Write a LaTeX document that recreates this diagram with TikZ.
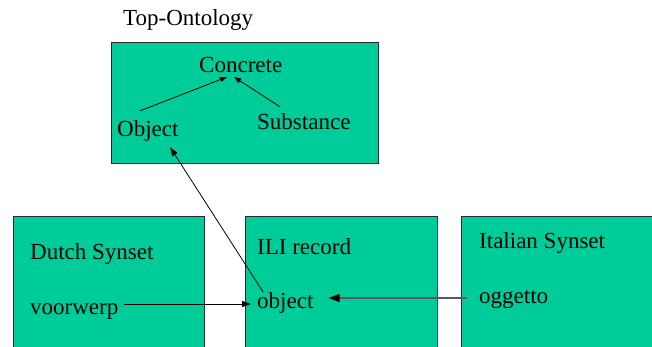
\documentclass[tikz,border=0pt]{standalone}
\usepackage{fontspec}
\setmainfont{Liberation Serif}
\usetikzlibrary{arrows.meta}
\definecolor{boxgreen}{RGB}{0,204,153}
\definecolor{boxline}{RGB}{40,40,40}
\begin{document}
\begin{tikzpicture}[x=1pt,y=-1pt,
  box/.style={draw=boxline, line width=0.9pt, fill=boxgreen, anchor=north west, inner sep=0pt},
  lbl/.style={anchor=base west, inner sep=0pt, font=\fontsize{23}{27}\selectfont},
  arr/.style={draw=black, line width=0.8pt, -{Triangle[length=9pt,width=6pt]}},
  arrsmall/.style={draw=black, line width=0.8pt, -{Triangle[length=7pt,width=5pt]}},
  arrgray/.style={draw=black!65, line width=1.6pt, -{Triangle[length=11pt,width=8pt,color=black]}}]
\useasboundingbox (0,0) rectangle (652,347);
% boxes
\node[box, minimum width=267pt, minimum height=121pt] (topbox) at (111,42) {};
\node[box, minimum width=191.5pt, minimum height=140pt] (dutch) at (12.5,216) {};
\node[box, minimum width=192pt, minimum height=140pt] (ili) at (245,216) {};
\node[box, minimum width=200pt, minimum height=140pt] (ital) at (461,216) {};
% labels
\node[lbl] (title) at (123,26) {Top-Ontology};
\node[lbl] (conc) at (199,73) {Concrete};
\node[lbl] (obj) at (117,137) {Object};
\node[lbl] (subst) at (257,130) {Substance};
\node[lbl] (dutchlbl) at (30,259) {Dutch Synset};
\node[lbl] (vw) at (30,314) {voorwerp};
\node[lbl] (ililbl) at (257,254) {ILI record};
\node[lbl] (iliobj) at (257,308) {object};
\node[lbl] (itallbl) at (479,248) {Italian Synset};
\node[lbl] (ogg) at (479,303) {oggetto};
% connectors
\draw[arrsmall] ([xshift=23pt,yshift=10pt]obj.north west) -- ([xshift=28pt,yshift=-4pt]conc.base west);
\draw[arrsmall] ([xshift=23pt,yshift=7pt]subst.north west) -- ([xshift=35pt,yshift=-4pt]conc.base west);
\draw[arr] ([xshift=6pt]iliobj.north west) -- ([xshift=53pt,yshift=-5pt]obj.south west);
\draw[arr] ([xshift=5pt,yshift=10pt]vw.base east) -- ([xshift=-6pt,yshift=4pt]iliobj.base west);
\draw[arrgray] ([xshift=-12pt,yshift=5pt]ogg.base west) -- ([xshift=15pt,yshift=10pt]iliobj.base east);
\end{tikzpicture}
\end{document}
